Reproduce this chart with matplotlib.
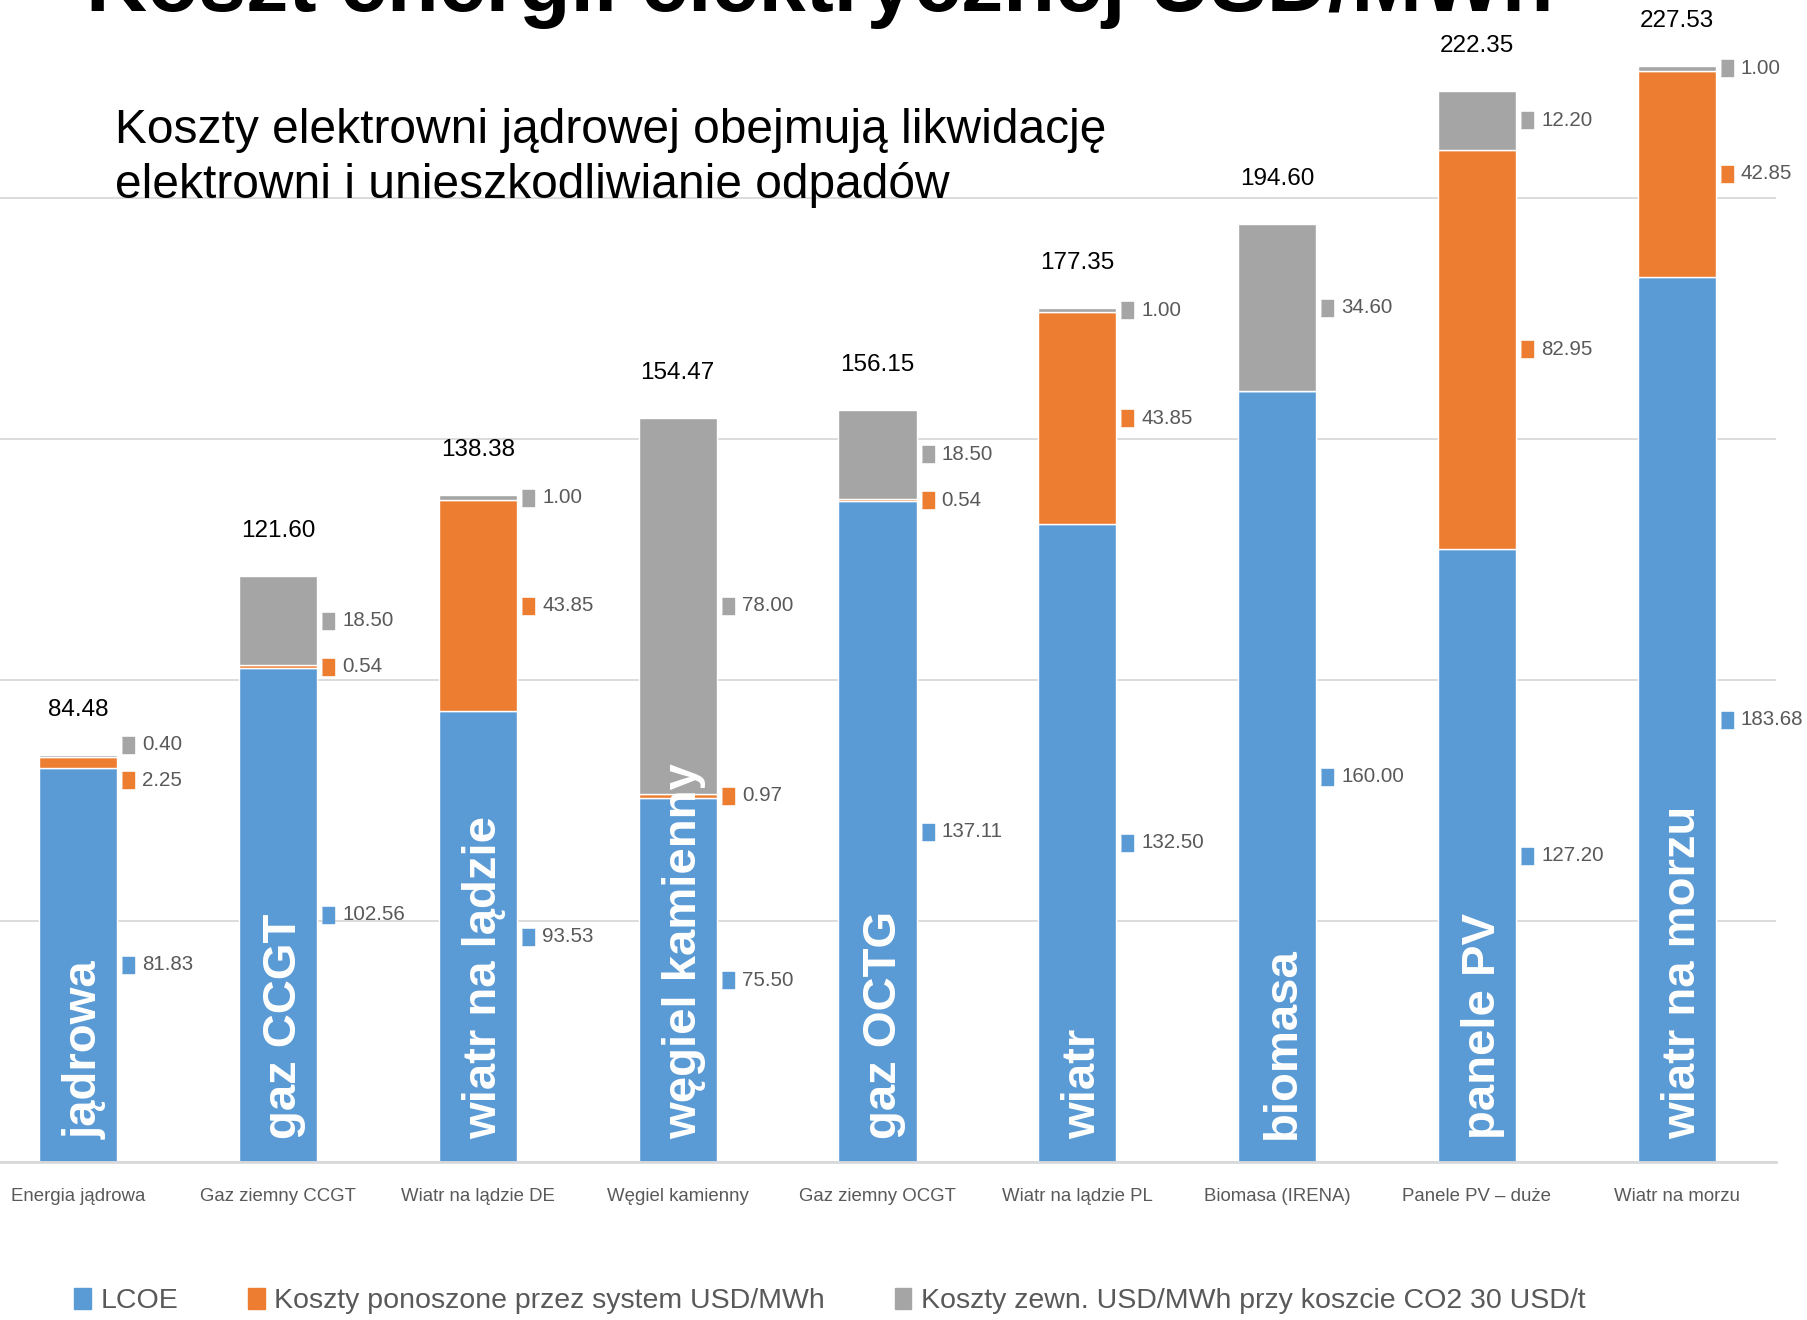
import matplotlib
matplotlib.use("Agg")
import matplotlib.pyplot as plt
import matplotlib.transforms as mtransforms
from matplotlib.patches import Patch
import numpy as np

# dane: koszt energii elektrycznej USD/MWh
categories = ["Energia jądrowa", "Gaz ziemny CCGT", "Wiatr na lądzie DE", "Węgiel kamienny",
              "Gaz ziemny OCGT", "Wiatr na lądzie PL", "Biomasa (IRENA)", "Panele PV – duże",
              "Wiatr na morzu"]
bar_names = ["jądrowa", "gaz CCGT", "wiatr na lądzie", "węgiel kamienny", "gaz OCTG",
             "wiatr", "biomasa", "panele PV", "wiatr na morzu"]
lcoe = [81.83, 102.56, 93.53, 75.50, 137.11, 132.50, 160.00, 127.20, 183.68]
koszty_systemu = [2.25, 0.54, 43.85, 0.97, 0.54, 43.85, 0.0, 82.95, 42.85]
koszty_zewn = [0.40, 18.50, 1.00, 78.00, 18.50, 1.00, 34.60, 12.20, 1.00]
series_names = ["LCOE", "Koszty ponoszone przez system USD/MWh",
                "Koszty zewn. USD/MWh przy koszcie CO2 30 USD/t"]

colors = ["#5B9BD5", "#ED7D31", "#A5A5A5"]
label_grey = "#595959"

arial = "Liberation Sans"

W, H = 1808, 1320
fig = plt.figure(figsize=(W / 100, H / 100), dpi=100)
base_px = 1162
ax = fig.add_axes([0, (H - base_px) / H, 1776 / W, base_px / H])

x = np.arange(len(categories))
bw = 0.392
series = [np.array(lcoe), np.array(koszty_systemu), np.array(koszty_zewn)]
bottom = np.zeros(len(x))
for vals, col, name in zip(series, colors, series_names):
    ax.bar(x, vals, bw, bottom=bottom, color=col, edgecolor="white", linewidth=1.0,
           label=name, zorder=2)
    bottom = bottom + vals
totals = bottom

ax.set_xlim(-0.392, 8.497)
ax.set_ylim(0, 241.2)
ax.set_yticks([0, 50, 100, 150, 200])
ax.yaxis.grid(True, color="#d9d9d9", linewidth=1.3, zorder=0)
ax.set_axisbelow(True)
ax.tick_params(axis="y", left=False, labelleft=False)
for s in ["top", "right", "left"]:
    ax.spines[s].set_visible(False)
ax.spines["bottom"].set_color("#d9d9d9")
ax.spines["bottom"].set_linewidth(2)
ax.set_xticks(x)
ax.set_xticklabels(categories, fontsize=13.4, color=label_grey, family=arial)
ax.tick_params(axis="x", length=0, pad=19)

# etykiety wartości obok segmentów (przesunięcia w pikselach dla jądrowej)
nudge = {(1, 0): -18, (2, 0): 11}
marker_shape = [(-0.4, -0.5), (0.4, -0.5), (0.4, 0.5), (-0.4, 0.5)]
bottom = np.zeros(len(x))
for k, (vals, col) in enumerate(zip(series, colors)):
    for i, v in enumerate(vals):
        if v <= 0:
            continue
        ymid = bottom[i] + v / 2
        dy = nudge.get((k, i), 0)
        mk_tr = mtransforms.offset_copy(ax.transData, fig, x=11, y=dy, units="dots")
        ax.plot(i + bw / 2, ymid, marker=marker_shape, markersize=11, color=col,
                transform=mk_tr, clip_on=False, zorder=3)
        ax.annotate(f"{v:.2f}", (i + bw / 2, ymid), xytext=(25, dy),
                    textcoords="offset pixels", ha="left", va="center",
                    fontsize=14.8, color=label_grey, family=arial, annotation_clip=False)
    bottom = bottom + vals

# sumy nad słupkami
for i, t in enumerate(totals):
    ax.annotate(f"{t:.2f}", (i, t), xytext=(0, 45), textcoords="offset pixels",
                ha="center", va="center", fontsize=17.5, color="black", family=arial,
                annotation_clip=False)

# nazwy technologii wewnątrz słupków
for i, name in enumerate(bar_names):
    ax.annotate(name, (i, 0), xytext=(18, 23), textcoords="offset pixels",
                rotation=90, rotation_mode="anchor", ha="left", va="baseline",
                fontsize=34, fontweight="bold", color="white", family=arial, zorder=4)

fig.text(86 / W, 1 - 11 / H, "Koszt energii elektrycznej USD/MWh", fontsize=61,
         fontweight="bold", family=arial, va="baseline", ha="left")
fig.text(115 / W, 1 - 143 / H, "Koszty elektrowni jądrowej obejmują likwidację",
         fontsize=34.5, family=arial, va="baseline", ha="left")
fig.text(115 / W, 1 - 198 / H, "elektrowni i unieszkodliwianie odpadów",
         fontsize=34.5, family=arial, va="baseline", ha="left")

handles = [Patch(color=c, label=n) for c, n in zip(colors, series_names)]
leg = fig.legend(handles=handles, loc="center left", bbox_to_anchor=(74 / W, 1 - 1301 / H),
                 ncol=3, frameon=False, handlelength=0.58, handleheight=0.75,
                 handletextpad=0.35, columnspacing=2.45, borderpad=0, borderaxespad=0,
                 prop={"family": arial, "size": 20.5})
for t in leg.get_texts():
    t.set_color(label_grey)

fig.savefig("out.png", dpi=100)
